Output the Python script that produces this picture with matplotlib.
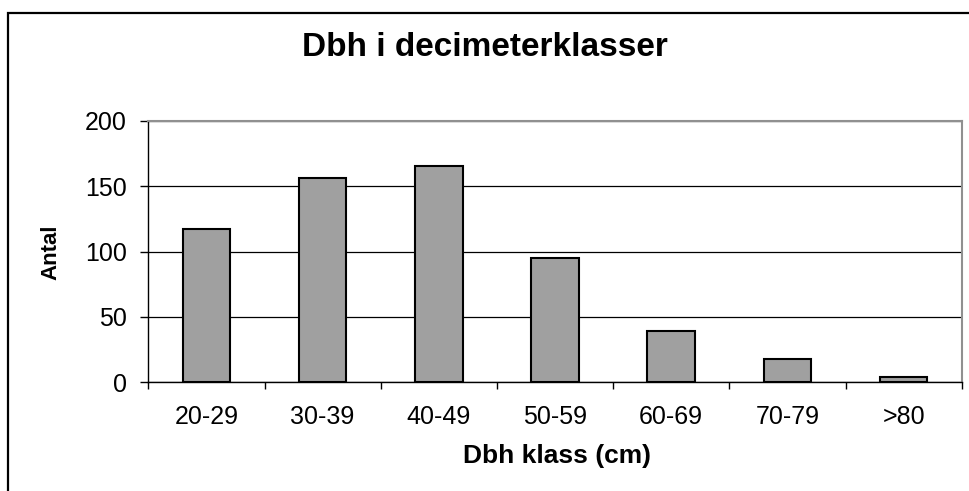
import matplotlib as mpl; mpl.use('Agg')
import matplotlib.pyplot as plt
from matplotlib.patches import Rectangle

# Dbh-klasser och antal träd
klasser = ["20-29", "30-39", "40-49", "50-59", "60-69", "70-79", ">80"]
antal = [117, 156, 165, 95, 39, 18, 4]
yticks = [0, 50, 100, 150, 200]

plt.rcParams['font.family'] = ['Liberation Sans', 'DejaVu Sans']

W, H = 969, 491
fig = plt.figure(figsize=(W / 100, H / 100), dpi=100)
ax = fig.add_axes([148.3 / W, 1 - 382.3 / H, (961.7 - 148.3) / W, (382.3 - 120.7) / H])

# yttre ram (syns bara vänster och överkant)
fig.patches.append(Rectangle((8 / W, -0.1), 1.2, 1 - 12.5 / H + 0.1, transform=fig.transFigure,
                             fill=False, edgecolor='black', linewidth=1.6))

x = range(len(klasser))
ax.bar(x, antal, width=0.41, color='#a0a0a0', edgecolor='black', linewidth=1.5, zorder=3)

ax.set_xlim(-0.5, len(klasser) - 0.5)
ax.set_ylim(0, 200)
ax.set_yticks(yticks)
ax.set_yticklabels([str(v) for v in yticks], fontsize=18)
ax.yaxis.grid(True, color='black', linewidth=0.9)
ax.set_axisbelow(True)

# x-ticks mellan kategorierna, etiketter i mitten
ax.set_xticks([i - 0.5 for i in range(len(klasser) + 1)])
ax.set_xticklabels([])
ax.set_xticks(list(x), minor=True)
ax.set_xticklabels(klasser, minor=True, fontsize=18)
ax.tick_params(axis='x', which='major', length=5, width=1, direction='out')
ax.tick_params(axis='x', which='minor', length=0, pad=16)
ax.tick_params(axis='y', length=5.8, width=1, pad=9.6)

for s in ['left', 'bottom']:
    ax.spines[s].set_color('black')
    ax.spines[s].set_linewidth(1)
for s in ['top', 'right']:
    ax.spines[s].set_color('#909090')
    ax.spines[s].set_linewidth(1.5)

fig.text(484.5 / W, 1 - 48 / H, "Dbh i decimeterklasser", fontsize=24, fontweight='bold',
         ha='center', va='center')
fig.text(556.7 / W, 1 - 456 / H, "Dbh klass (cm)", fontsize=19, fontweight='bold',
         ha='center', va='center')
fig.text(51 / W, 1 - 252.5 / H, "Antal", fontsize=16, fontweight='bold', rotation=90,
         ha='center', va='center')

fig.savefig('out.png', dpi=100)
